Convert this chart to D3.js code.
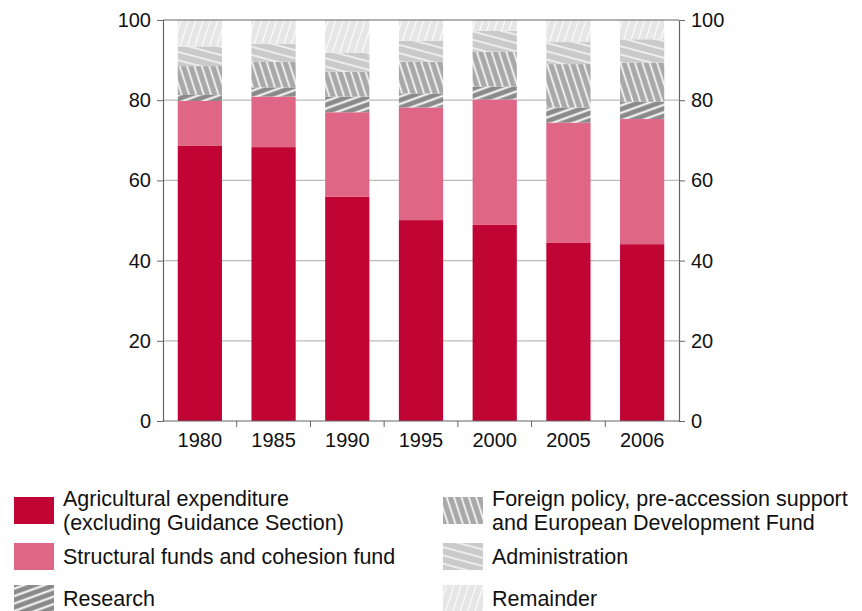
<!DOCTYPE html>
<meta charset="utf-8">
<style>
body { margin: 0; background: #fff; font-family: "Liberation Sans", Arial, sans-serif; }
text { font-family: "Liberation Sans", Arial, sans-serif; }
</style>
<body>
<script src="https://d3js.org/d3.v7.min.js"></script>
<script>
var years = ["1980", "1985", "1990", "1995", "2000", "2005", "2006"];
var agri = [68.6, 68.3, 55.9, 50.1, 48.9, 44.4, 44.1];
var struct = [11.2, 12.6, 21.1, 28.1, 31.3, 30.0, 31.2];
var research = [1.5, 2.3, 3.9, 3.5, 3.2, 3.8, 4.3];
var foreign = [7.2, 6.4, 6.2, 7.9, 8.7, 10.8, 9.8];
var admin = [4.9, 4.4, 4.7, 5.2, 5.2, 5.5, 5.8];
var remainder = years.map(function(d, i) {
  return 100 - agri[i] - struct[i] - research[i] - foreign[i] - admin[i];
});
var yTicks = [0, 20, 40, 60, 80, 100];

var series = [
  {name: ["Agricultural expenditure", "(excluding Guidance Section)"], values: agri, fill: "#c00535"},
  {name: ["Structural funds and cohesion fund"], values: struct, fill: "#e06686"},
  {name: ["Research"], values: research, fill: "url(#pRes)"},
  {name: ["Foreign policy, pre-accession support", "and European Development Fund"], values: foreign, fill: "url(#pFor)"},
  {name: ["Administration"], values: admin, fill: "url(#pAdm)"},
  {name: ["Remainder"], values: remainder, fill: "url(#pRem)"}
];

var width = 862, height = 611;
var svg = d3.select("body").append("svg").attr("width", width).attr("height", height);

var defs = svg.append("defs");
function pattern(id, bg, angle, gap, sw) {
  var p = defs.append("pattern").attr("id", id).attr("patternUnits", "userSpaceOnUse")
    .attr("width", gap).attr("height", gap).attr("patternTransform", "rotate(" + angle + ")");
  p.append("rect").attr("width", gap).attr("height", gap).attr("fill", bg);
  p.append("line").attr("x1", 0).attr("y1", gap / 2).attr("x2", gap).attr("y2", gap / 2)
    .attr("stroke", "#fff").attr("stroke-width", sw);
}
pattern("pRes", "#8a8a8a", -20, 7, 2);
pattern("pFor", "#a8a8a8", 72, 7, 1.6);
pattern("pAdm", "#cacaca", 15, 8, 1.3);
pattern("pRem", "#e6e6e6", -72, 7, 1);

var x = d3.scaleBand().domain(years).range([163, 679]).paddingInner(0.4).paddingOuter(0.2);
var y = d3.scaleLinear().domain([0, 100]).range([421, 20]);

// grid
svg.append("g").selectAll("line").data(yTicks.slice(1, 5)).join("line")
  .attr("x1", 163).attr("x2", 679).attr("y1", y).attr("y2", y)
  .attr("stroke", "#bbb").attr("stroke-width", 1.2);

var stacked = d3.stack().keys(d3.range(series.length))
  .value(function(d, k) { return series[k].values[d]; })(d3.range(years.length));

svg.append("g").selectAll("g").data(stacked).join("g")
  .attr("fill", function(d, k) { return series[k].fill; })
  .selectAll("rect").data(function(d) { return d; }).join("rect")
  .attr("x", function(d) { return x(years[d.data]); })
  .attr("width", x.bandwidth())
  .attr("y", function(d) { return y(d[1]); })
  .attr("height", function(d) { return y(d[0]) - y(d[1]); });

// frame
svg.append("line").attr("x1", 163).attr("x2", 679).attr("y1", 20).attr("y2", 20).attr("stroke", "#666").attr("stroke-width", 1.2);
var left = svg.append("g").attr("transform", "translate(163,0)")
  .call(d3.axisLeft(y).tickValues(yTicks).tickSize(6).tickPadding(6));
var right = svg.append("g").attr("transform", "translate(679,0)")
  .call(d3.axisRight(y).tickValues(yTicks).tickSize(6).tickPadding(6));
var bottom = svg.append("g").attr("transform", "translate(0,421)")
  .call(d3.axisBottom(x).tickSize(0).tickPadding(12));
bottom.select(".domain").attr("d", "M163,0H679");
bottom.selectAll(".sep").data(years.slice(1)).join("line").attr("class", "sep")
  .attr("x1", function(d) { return x(d) - x.step() * x.paddingInner() / 2; })
  .attr("x2", function(d) { return x(d) - x.step() * x.paddingInner() / 2; })
  .attr("y1", 0).attr("y2", 6).attr("stroke", "#666");
[left, right, bottom].forEach(function(g) {
  g.selectAll(".domain").attr("stroke", "#666").attr("stroke-width", 1.2);
  g.selectAll(".tick line").attr("stroke", "#666");
  g.selectAll("text").attr("font-size", 20).attr("fill", "#111")
    .style("font-family", "Liberation Sans, Arial, sans-serif");
});

// legend
var legPos = [[14, 497], [14, 543], [14, 585], [443, 497], [443, 543], [443, 585]];
var leg = svg.append("g").selectAll("g").data(series).join("g")
  .attr("transform", function(d, i) { return "translate(" + legPos[i][0] + "," + legPos[i][1] + ")"; });
leg.append("rect").attr("width", 40).attr("height", 27).attr("fill", function(d) { return d.fill; });
leg.append("text").attr("font-size", 21.5).attr("fill", "#111")
  .selectAll("tspan").data(function(d) { return d.name; }).join("tspan")
  .attr("x", 49).attr("y", function(d, i, n) { return n.length > 1 ? 9 + i * 24 : 21; })
  .text(function(d) { return d; });
</script>
</body>
